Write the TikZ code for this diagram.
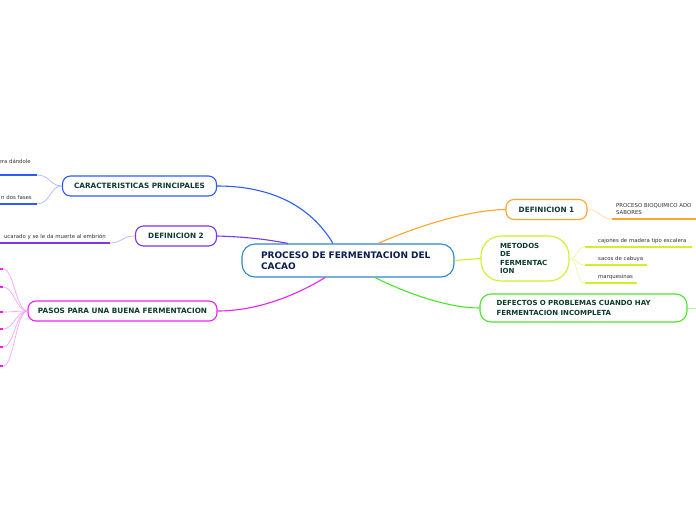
\documentclass[tikz,border=0pt]{standalone}
\usepackage{fontspec}
\setmainfont{DejaVu Sans}
\usetikzlibrary{calc}
\definecolor{cblue}{HTML}{2A5CFF}
\definecolor{cpurple}{HTML}{7B35F5}
\definecolor{cmag}{HTML}{EE22EE}
\definecolor{corange}{HTML}{FFA62B}
\definecolor{cyellow}{HTML}{D2F02A}
\definecolor{cgreen}{HTML}{4AE62A}
\definecolor{cmain}{HTML}{2F88C8}
\definecolor{ntext}{HTML}{0D3B2E}
\definecolor{mtext}{HTML}{0B1D51}
\definecolor{ltext}{HTML}{333333}
\definecolor{lblue}{HTML}{A8BCFF}
\definecolor{lpurple}{HTML}{C8AEFA}
\definecolor{lmag}{HTML}{F7A6F7}
\definecolor{lorange}{HTML}{FFD9A6}
\definecolor{lyellow}{HTML}{EDF8A8}
\definecolor{lgreen}{HTML}{B5F5A5}
\tikzset{
  topic/.style={draw, line width=1.1pt, fill=white, rounded corners=8pt, inner sep=0pt,
    font=\fontsize{7.3}{8.5}\selectfont\bfseries, text=ntext},
  mainbox/.style={draw=cmain, line width=1.1pt, fill=white, rounded corners=13pt, inner xsep=19pt, inner ysep=0pt,
    minimum width=212pt, minimum height=33pt, text width=174pt, align=left,
    font=\fontsize{9}{11}\selectfont\bfseries, text=mtext},
  leaf/.style={font=\fontsize{5.4}{7}\selectfont, text=ltext, inner sep=0pt},
  link/.style={line width=1.1pt},
  twig/.style={line width=0.7pt},
  uline/.style={line width=1.5pt}
}
\begin{document}
\begin{tikzpicture}[x=1pt,y=-1pt]
\useasboundingbox (0,0) rectangle (696,520);
\clip (0,0) rectangle (696,520);
\fill[white] (0,0) rectangle (696,520);

% ---------- nodes ----------
\coordinate (mainpos) at (348,260.5);
\node[mainbox] (main) at (mainpos) {PROCESO DE FERMENTACION DEL\\CACAO};
\node[topic, draw=cblue, minimum width=154pt, minimum height=20pt] (car) at (139.5,186) {CARACTERISTICAS PRINCIPALES};
\node[topic, draw=cpurple, minimum width=81pt, minimum height=20pt] (def2) at (176,236) {DEFINICION 2};
\node[topic, draw=cmag, minimum width=189pt, minimum height=20pt] (pasos) at (122.5,311) {PASOS PARA UNA BUENA FERMENTACION};
\node[topic, draw=corange, minimum width=81pt, minimum height=20pt] (def1) at (546.5,209.5) {DEFINICION 1};
\node[topic, draw=cyellow, minimum width=88pt, minimum height=45pt, rounded corners=20pt, text width=50pt, align=left, font=\fontsize{7}{8.6}\selectfont\bfseries] (met) at (525,258.5) {METODOS\\DE\\FERMENTAC\\ION};
\node[topic, draw=cgreen, minimum width=207pt, minimum height=28pt, rounded corners=11pt, text width=174pt, align=left, font=\fontsize{7}{10}\selectfont\bfseries] (def) at (583.5,308) {DEFECTOS O PROBLEMAS CUANDO HAY\\FERMENTACION INCOMPLETA};

% ---------- main links ----------
\draw[link, cblue] (car.east) .. controls (270,186) and (310,205) .. ($(main.north)+(-15,0)$);
\draw[link, cpurple] (def2.east) .. controls (250,237) and (270,240) .. ($(main.north)+(-60,0)$);
\draw[link, cmag] (pasos.east) .. controls (260,311) and (300,293) .. ($(main.south)+(-23,0)$);
\draw[link, corange] ($(main.north)+(30,0)$) .. controls (420,225) and (470,210) .. (def1.west);
\draw[link, cyellow] (main.east) -- (met.west);
\draw[link, cgreen] ($(main.south)+(27,0)$) .. controls (410,295) and (450,308) .. (def.west);

% ---------- CARACTERISTICAS leaves ----------
\coordinate (c1) at (37,175);
\coordinate (c2) at (37,204);
\draw[twig, lblue] (c1) .. controls (50,175) and (50,186) .. (car.west);
\draw[twig, lblue] (c2) .. controls (50,204) and (50,186) .. (car.west);
\draw[uline, cblue] (-2,175) -- (c1);
\draw[uline, cblue] (-2,204) -- (c2);
\node[leaf, anchor=base east] (t1) at (31,163.5) {era dándole};
\node[leaf, anchor=base east] (t2) at (32,199.5) {n dos fases};

% ---------- DEFINICION 2 leaf ----------
\coordinate (d2) at (110,243);
\draw[twig, lpurple] (d2) .. controls (122,243) and (122,236) .. (def2.west);
\draw[uline, cpurple] (-2,243) -- (d2);
\node[leaf, anchor=base east] (t3) at (106,238) {ucarado y se le da muerte al embrión};

% ---------- PASOS leaves ----------
\foreach \yy [count=\i] in {269,287,312,329,347,366}{
  \coordinate (p\i) at (3,\yy);
  \draw[twig, lmag] (p\i) .. controls (14,\yy) and (16,311) .. (pasos.west);
  \draw[uline, cmag] (-2,\yy) -- (p\i);
}

% ---------- DEFINICION 1 leaf ----------
\coordinate (d1) at (612,219);
\draw[twig, lorange] (def1.east) .. controls (600,209.5) and (600,219) .. (d1);
\draw[uline, corange] (d1) -- (698,219);
\node[leaf, anchor=base west] (t4) at (616,207.5) {PROCESO BIOQUIMICO ADO};
\node[leaf, anchor=base west] (t5) at (616,214.5) {SABORES};

% ---------- METODOS leaves ----------
\coordinate (m1) at (585,247);
\coordinate (m2) at (585,265);
\coordinate (m3) at (585,283);
\draw[twig, lyellow] (met.east) .. controls (578,258.5) and (576,247) .. (m1);
\draw[twig, lyellow] (met.east) .. controls (578,258.5) and (576,265) .. (m2);
\draw[twig, lyellow] (met.east) .. controls (578,258.5) and (576,283) .. (m3);
\draw[uline, cyellow] (m1) -- (692,247);
\draw[uline, cyellow] (m2) -- (647,265);
\draw[uline, cyellow] (m3) -- (637,283);
\node[leaf, anchor=base west] (t6) at (598,242) {cajones de madera tipo escalera};
\node[leaf, anchor=base west] (t7) at (598,260) {sacos de cabuya};
\node[leaf, anchor=base west] (t8) at (598,278.5) {marquesinas};

% ---------- DEFECTOS stub ----------
\coordinate (dz) at (698,308);
\draw[twig, lgreen] (def.east) -- (dz);
\end{tikzpicture}
\end{document}
